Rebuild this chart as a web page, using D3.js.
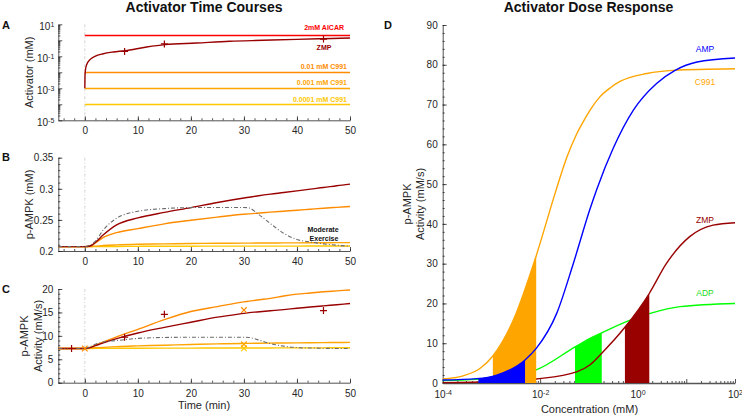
<!DOCTYPE html>
<html><head><meta charset="utf-8">
<script src="https://cdn.jsdelivr.net/npm/d3@7"></script>
<style>
body{margin:0;background:#fff;}
svg text{font-family:"Liberation Sans",Arial,Helvetica,sans-serif;}
</style></head><body>
<svg id="chart" width="742" height="415"></svg>
<script>
// ---------------- DATA ----------------
// Panel A: activator concentrations (mM)
const constLevels = [2, 0.01, 0.001, 0.0001];
const constLabels = ["2mM AICAR", "0.01 mM C991", "0.001 mM C991", "0.0001 mM C991"];
const zmpTimeA = [0,0.03,0.1,0.34,0.97,1.91,3.48,5.36,7.56,11.65,15.1,21.06,27.3,33.6,39.9,44.9,50];
const zmpConcA = [0.001,0.005,0.0126,0.0295,0.0617,0.1,0.145,0.186,0.224,0.38,0.537,0.676,0.871,1.0,1.15,1.26,1.38];
const zmpMeasTimeA = [7.5, 15, 45];
const zmpMeasConcA = [0.2, 0.59, 1.2];

// Panels B and C share a time grid (min)
const timeGrid = [-5,0,1,2,3.5,6,10,15,20,25,30,31,32.5,35,37.5,40,42.5,45,47.5,50];
// Panel B: p-AMPK (mM)
const bZmp   = [0.207,0.207,0.208,0.214,0.226,0.242,0.2532,0.262,0.2698,0.278,0.2852,0.2865,0.2885,0.2915,0.294,0.2967,0.2995,0.302,0.305,0.3075];
const bC991a = [0.207,0.207,0.208,0.213,0.222,0.2295,0.236,0.2437,0.2495,0.2545,0.259,0.2597,0.2607,0.2625,0.264,0.2655,0.2672,0.2688,0.2702,0.2715];
const bC991b = [0.207,0.207,0.2072,0.2078,0.2088,0.2098,0.2108,0.2115,0.212,0.2124,0.2127,0.2127,0.2128,0.2129,0.213,0.2131,0.2132,0.2133,0.2134,0.2135];
const bC991c = [0.207,0.207,0.207,0.2071,0.2072,0.2073,0.2075,0.2076,0.2077,0.2078,0.2078,0.2078,0.2079,0.2079,0.2079,0.2079,0.208,0.208,0.208,0.208];
const bExercise = [0.207,0.207,0.2095,0.216,0.234,0.2527,0.2638,0.2682,0.2698,0.27,0.27,0.2692,0.2605,0.244,0.2285,0.2185,0.2145,0.2115,0.2093,0.2075];
// Panel C: p-AMPK activity (mM/s)
const cZmp   = [7.3,7.3,7.5,7.9,8.5,9.4,10.6,11.8,12.9,14.0,14.8,14.95,15.1,15.35,15.6,15.9,16.15,16.4,16.65,16.9];
const cC991a = [7.3,7.3,7.55,8.0,8.7,9.8,11.4,13.45,15.2,16.25,17.25,17.4,17.65,18.0,18.5,18.9,19.15,19.4,19.6,19.8];
const cC991b = [7.3,7.3,7.38,7.45,7.55,7.7,7.85,8.0,8.15,8.28,8.38,8.4,8.42,8.45,8.48,8.5,8.53,8.56,8.58,8.6];
const cC991c = [7.3,7.3,7.31,7.32,7.33,7.34,7.36,7.38,7.39,7.4,7.41,7.41,7.42,7.42,7.43,7.43,7.44,7.44,7.45,7.45];
const cExercise = [7.3,7.3,7.7,8.2,8.7,9.0,9.45,9.65,9.7,9.7,9.7,9.65,9.2,8.35,7.8,7.5,7.4,7.35,7.3,7.3];
const cMeasZmpTime = [-2.5, 7.5, 15, 45];
const cMeasZmpVal  = [7.3, 9.7, 14.6, 15.4];
const cMeasC991aTime = [0, 30];
const cMeasC991aVal  = [7.3, 15.5];
const cMeasC991bTime = [30];
const cMeasC991bVal  = [8.2];
const cMeasC991cTime = [30];
const cMeasC991cVal  = [7.35];

// Panel D: dose response (log10 mM, activity mM/s)
const c991Log = [-4,-3.58,-3.23,-2.97,-2.55,-2.08,-1.69,-1.45,-1.25,-1.1,-0.975,-0.77,-0.55,-0.36,0.19,0.73,2];
const c991Act = [1.0,1.8,3.7,6.8,15.8,32.0,47.8,56.8,62.6,66.0,68.6,72.0,74.3,75.8,77.8,78.6,79];
const ampLog = [-4,-3.3,-2.89,-2.31,-2.08,-1.66,-1.32,-0.975,-0.84,-0.5,-0.086,0.39,0.77,1.22,2];
const ampAct = [0.75,1.1,2.0,5.8,8.7,17.5,30,43.8,48.6,59.0,68.6,75.3,78.6,80.7,81.7];
const adpLog = [-4,-3.3,-3,-2.08,-1.28,-0.975,-0.735,-0.154,0.26,0.87,2];
const adpAct = [0.6,0.9,1.2,3.3,9.1,11.2,12.6,15.8,17.5,19.2,20.0];
const zmpLog = [-4,-3,-2.08,-1.25,-0.975,-0.735,-0.26,0.24,0.59,1.07,1.55,2];
const zmpAct = [0.1,0.3,1.0,2.8,4.6,7.5,14,22.5,30,36.8,39.7,40.3];
const c991Range = [0.00107, 0.0083];
const ampRange  = [0.00054, 0.0049];
const adpRange  = [0.052, 0.184];
const zmpRange  = [0.55, 1.74];

const timeTicks = [0,10,20,30,40,50];
const timeMinor = d3.range(-4,51,2);
const bTicks = [0.2,0.25,0.3,0.35];
const cTicks = [0,5,10,15,20];
const dTicks = d3.range(0,91,10);

// ---------------- COLORS ----------------
const colZmp = "#990000", colAicar = "#ff0000";
const colC1 = "#ff8c00", colC2 = "#ffa500", colC3 = "#ffc800";
const colAmp = "#0000ff", colAdp = "#00ff00", colEx = "#6b6b6b";
const axisColor = "#262626";
const constColors = [colAicar, colC1, colC2, colC3];
const LW = 1.4;

// ---------------- SCALES ----------------
const svg = d3.select("#chart");
const L = 58.3, R = 350;
const x = d3.scaleLinear().domain([-5,50]).range([L,R]);
const yA = d3.scaleLog().domain([1e-5,10]).range([120.3,24.3]);
const yB = d3.scaleLinear().domain([0.2,0.35]).range([251,157.7]);
const yC = d3.scaleLinear().domain([0,20]).range([382.7,289]);
const xD = d3.scaleLog().domain([1e-4,100]).range([442.7,735]);
const yD = d3.scaleLinear().domain([0,90]).range([383,25]);

function style(g){
  g.selectAll("path,line").attr("stroke",axisColor).attr("stroke-width",0.8);
  g.selectAll("text").attr("fill",axisColor).attr("font-size",10);
}
function addAxis(axisFn, scale, pos, major, minor, pad, fmt, horiz){
  const tr = horiz ? `translate(0,${pos})` : `translate(${pos},0)`;
  if (minor) {
    const gm = svg.append("g").attr("transform",tr)
      .call(axisFn(scale).tickValues(minor).tickSize(-2).tickFormat(""));
    gm.select(".domain").remove(); style(gm);
  }
  const g = svg.append("g").attr("transform",tr)
    .call(axisFn(scale).tickValues(major).tickSizeInner(-4).tickSizeOuter(0).tickPadding(pad).tickFormat(fmt || null));
  style(g);
  return g;
}
function supLabels(g, show, isX){
  g.selectAll(".tick text").each(function(d){
    const t = d3.select(this); t.text(null);
    const e = Math.round(Math.log10(d));
    if (!show(e)) return;
    if (!isX) t.attr("dy","0.55em");
    t.append("tspan").text("10");
    t.append("tspan").attr("dy","-0.5em").attr("font-size",7).text(String(e));
  });
}

// titles and letters
svg.append("text").attr("x",204).attr("y",12).attr("text-anchor","middle").attr("font-size",14).attr("font-weight","bold").attr("fill","#111").text("Activator Time Courses");
svg.append("text").attr("x",588.5).attr("y",12).attr("text-anchor","middle").attr("font-size",14).attr("font-weight","bold").attr("fill","#111").text("Activator Dose Response");
[["A",2,28.5],["B",2,161],["C",2,293],["D",384,29]].forEach(([s,px,py])=>{
  svg.append("text").attr("x",px).attr("y",py).attr("font-size",11).attr("font-weight","bold").attr("fill","#111").text(s);
});

function ylab(lines, cx, cy){
  lines.forEach((s,i)=>{
    svg.append("text").attr("transform",`translate(${cx[i]},${cy}) rotate(-90)`)
      .attr("text-anchor","middle").attr("dominant-baseline","central")
      .attr("font-size",11).attr("fill",axisColor).text(s);
  });
}
function zeroLine(y0,y1){
  svg.append("line").attr("x1",x(0)).attr("x2",x(0)).attr("y1",y0).attr("y2",y1)
    .attr("stroke","#c8c8c8").attr("stroke-width",0.8).attr("stroke-dasharray","3,2,1,2");
}
const plus = "M-3.5,0H3.5M0,-3.5V3.5", cross = "M-2.8,-2.8L2.8,2.8M-2.8,2.8L2.8,-2.8";
function markers(ts, vs, ys, shape, color){
  ts.forEach((t,i)=>{
    svg.append("path").attr("d",shape).attr("transform",`translate(${x(t)},${ys(vs[i])})`)
      .attr("stroke",color).attr("stroke-width",1.2).attr("fill","none");
  });
}
function drawLine(pts, gen, color, dash){
  svg.append("path").datum(pts).attr("d",gen).attr("fill","none").attr("stroke",color)
    .attr("stroke-width",dash?1.1:LW).attr("stroke-dasharray",dash||null);
}

// ---------------- PANEL A ----------------
zeroLine(24.3,120.3);
const decA = d3.range(-5,2).map(e=>10**e);
const minA = [];
d3.range(-5,1).forEach(e=>{ for(let k=2;k<10;k++) minA.push(k*10**e); });
const axA = addAxis(d3.axisLeft, yA, L, decA, minA, 4, null, false);
supLabels(axA, e=>Math.abs(e)%2===1, false);
addAxis(d3.axisBottom, x, 120.3, timeTicks, timeMinor, 7, d3.format("d"), true);
ylab(["Activator (mM)"],[29],72.3);

constLevels.forEach((c,i)=>{
  const yy = Math.round(yA(c)) + 0.5;
  svg.append("line").attr("x1",x(0)).attr("x2",x(50)).attr("y1",yy).attr("y2",yy)
    .attr("stroke",constColors[i]).attr("stroke-width",LW);
});
const lineA = d3.line().x(d=>x(d[0])).y(d=>yA(d[1])).curve(d3.curveMonotoneX);
drawLine(zmpTimeA.map((t,i)=>[t,zmpConcA[i]]), lineA, colZmp);
markers(zmpMeasTimeA, zmpMeasConcA, yA, plus, colZmp);
const aLabY = [27.3, 66.7, 82.3, 99];
const aLabX = [344, 347, 347, 347];
constLabels.forEach((s,i)=>{
  svg.append("text").attr("x",aLabX[i]).attr("y",aLabY[i]).attr("text-anchor","end").attr("dominant-baseline","central")
    .attr("font-size",7).attr("font-weight","bold").attr("fill",constColors[i]).text(s);
});
svg.append("text").attr("x",324).attr("y",47.5).attr("text-anchor","middle").attr("dominant-baseline","central")
  .attr("font-size",7).attr("font-weight","bold").attr("fill",colZmp).text("ZMP");

// ---------------- PANEL B ----------------
zeroLine(157.7,251);
addAxis(d3.axisLeft, yB, L, bTicks, d3.range(0.2,0.351,0.01), 5, v=>v===0.2?"0.2":v===0.3?"0.3":d3.format(".2f")(v), false);
addAxis(d3.axisBottom, x, 251, timeTicks, timeMinor, 7, d3.format("d"), true);
ylab(["p-AMPK (mM)"],[29],204.5);
const lineB = d3.line().x(d=>x(d[0])).y(d=>yB(d[1])).curve(d3.curveMonotoneX);
const zipT = arr => timeGrid.map((t,i)=>[t,arr[i]]);
drawLine(zipT(bC991c), lineB, colC3);
drawLine(zipT(bC991b), lineB, colC2);
drawLine(zipT(bC991a), lineB, colC1);
drawLine(zipT(bZmp), lineB, colZmp);
drawLine(zipT(bExercise), lineB, colEx, "4,2,1,2");
svg.append("text").attr("x",323).attr("y",229).attr("text-anchor","middle").attr("dominant-baseline","central")
  .attr("font-size",7).attr("font-weight","bold").attr("fill","#111").text("Moderate");
svg.append("text").attr("x",324).attr("y",238.3).attr("text-anchor","middle").attr("dominant-baseline","central")
  .attr("font-size",7).attr("font-weight","bold").attr("fill","#111").text("Exercise");

// ---------------- PANEL C ----------------
zeroLine(289,382.7);
addAxis(d3.axisLeft, yC, L, cTicks, d3.range(0,21,1), 5, d3.format("d"), false);
addAxis(d3.axisBottom, x, 382.7, timeTicks, timeMinor, 7, d3.format("d"), true);
ylab(["p-AMPK","Activity (mM/s)"],[24,38],336);
svg.append("text").attr("x",204).attr("y",405).attr("text-anchor","middle").attr("dominant-baseline","central")
  .attr("font-size",11).attr("fill",axisColor).text("Time (min)");
const lineC = d3.line().x(d=>x(d[0])).y(d=>yC(d[1])).curve(d3.curveMonotoneX);
drawLine(zipT(cC991c), lineC, colC3);
drawLine(zipT(cC991b), lineC, colC2);
drawLine(zipT(cC991a), lineC, colC1);
drawLine(zipT(cZmp), lineC, colZmp);
drawLine(zipT(cExercise), lineC, colEx, "4,2,1,2");
markers(cMeasZmpTime, cMeasZmpVal, yC, plus, colZmp);
markers(cMeasC991cTime, cMeasC991cVal, yC, cross, colC3);
markers(cMeasC991bTime, cMeasC991bVal, yC, cross, colC2);
markers(cMeasC991aTime, cMeasC991aVal, yC, cross, colC1);

// ---------------- PANEL D ----------------
const decD = d3.range(-4,3).map(e=>10**e);
const minD = [];
d3.range(-4,2).forEach(e=>{ for(let k=2;k<10;k++) minD.push(k*10**e); });
addAxis(d3.axisLeft, yD, 442.7, dTicks, d3.range(0,91,2), 5, d3.format("d"), false);
const axDx = addAxis(d3.axisBottom, xD, 383, decD, minD, 8, null, true);
axDx.select(".domain").attr("stroke","#555").attr("stroke-width",1.6);
supLabels(axDx, e=>e%2===0, true);
ylab(["p-AMPK","Activity (mM/s)"],[407,420],204);
svg.append("text").attr("x",589.5).attr("y",409).attr("text-anchor","middle").attr("dominant-baseline","central")
  .attr("font-size",11).attr("fill",axisColor).text("Concentration (mM)");

const lineD = d3.line().x(d=>xD(10**d[0])).y(d=>yD(d[1])).curve(d3.curveMonotoneX);
const areaD = d3.area().x(d=>xD(10**d[0])).y0(yD(0)).y1(d=>yD(d[1])).curve(d3.curveMonotoneX);
const defs = svg.append("defs");
let clipN = 0;
function fillUnder(pts, range, color){
  const id = "clipD"+(clipN++);
  defs.append("clipPath").attr("id",id).append("rect")
    .attr("x",xD(range[0])).attr("width",xD(range[1])-xD(range[0])).attr("y",0).attr("height",415);
  svg.append("path").datum(pts).attr("d",areaD).attr("fill",color).attr("clip-path",`url(#${id})`);
}
const zipD = (l,a)=>l.map((v,i)=>[v,a[i]]);
const adpPts = zipD(adpLog, adpAct), zmpPts = zipD(zmpLog, zmpAct);
const c991Pts = zipD(c991Log, c991Act), ampPts = zipD(ampLog, ampAct);
drawLine(adpPts, lineD, colAdp);
fillUnder(adpPts, adpRange, colAdp);
drawLine(zmpPts, lineD, colZmp);
fillUnder(zmpPts, zmpRange, colZmp);
drawLine(c991Pts, lineD, colC2);
fillUnder(c991Pts, c991Range, colC2);
fillUnder(ampPts, ampRange, colAmp);
drawLine(ampPts, lineD, colAmp);

[["AMP",49,colAmp],["C991",82,colC2],["ZMP",220,colZmp],["ADP",293,"#22dd22"]].forEach(([s,py,c])=>{
  svg.append("text").attr("x",705).attr("y",py).attr("text-anchor","middle").attr("dominant-baseline","central")
    .attr("font-size",8.5).attr("fill",c).text(s);
});
</script>
</body></html>
